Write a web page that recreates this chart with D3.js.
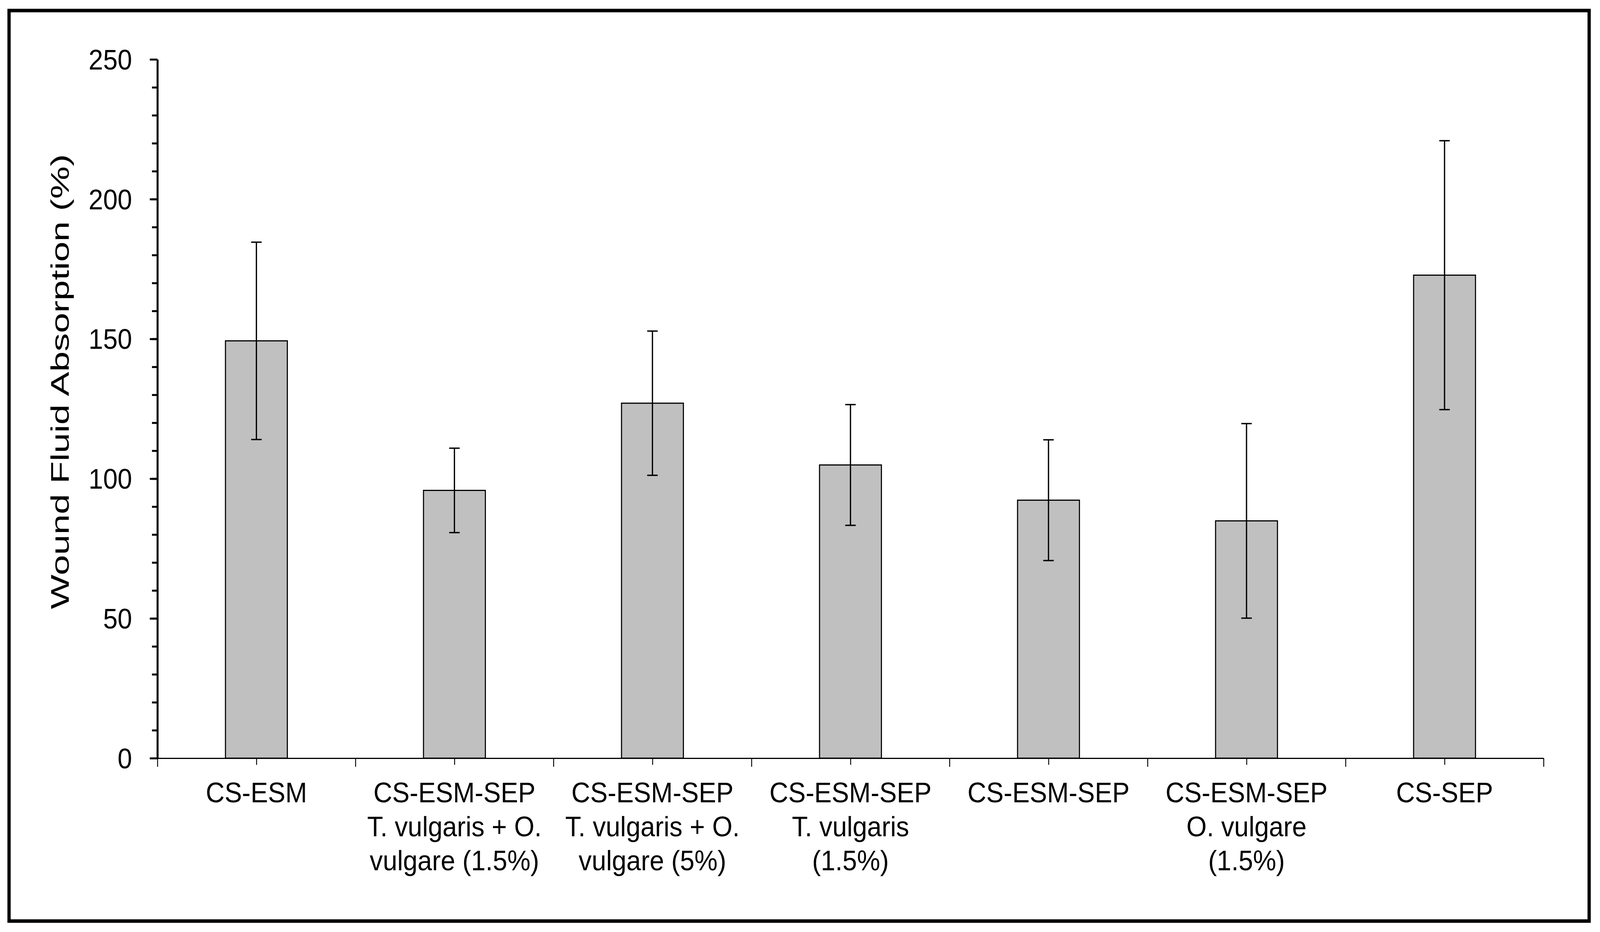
<!DOCTYPE html>
<html>
<head>
<meta charset="utf-8">
<script src="https://cdn.jsdelivr.net/npm/d3@7"></script>
<style>
  html, body { margin: 0; padding: 0; width: 100%; height: 100%; overflow: hidden; background: #fff; }
  svg { display: block; }
  text { font-family: "Liberation Sans", Arial, sans-serif; fill: #000; }
</style>
</head>
<body>
<script>
var width = 4422, height = 2386

// data
var categories = ["CS-ESM", "CS-ESM-SEP T.v+O.v 1.5", "CS-ESM-SEP T.v+O.v 5", "CS-ESM-SEP T.v 1.5",
                  "CS-ESM-SEP", "CS-ESM-SEP O.v 1.5", "CS-SEP"]
var labelLines = [
  ["CS-ESM"],
  ["CS-ESM-SEP", "T. vulgaris + O.", "vulgare (1.5%)"],
  ["CS-ESM-SEP", "T. vulgaris + O.", "vulgare (5%)"],
  ["CS-ESM-SEP", "T. vulgaris", "(1.5%)"],
  ["CS-ESM-SEP"],
  ["CS-ESM-SEP", "O. vulgare", "(1.5%)"],
  ["CS-SEP"]
]
var means  = [149.3, 95.8, 127.0, 104.9, 92.3, 84.9, 172.8]
var errors = [35.3, 15.1, 25.8, 21.6, 21.6, 34.8, 48.1]
var yMajor = [0, 50, 100, 150, 200, 250]
var yTitle = "Wound Fluid Absorption (%)"

var plot = { left: 435, right: 4266, top: 152, bottom: 1941 }

// scale the drawing to whatever the window really is
var svg = d3.select("body").append("svg")
    .attr("width", "100%")
    .attr("height", "100%")
    .attr("viewBox", "0 0 " + width + " " + height)
    .attr("preserveAspectRatio", "none")

// outer frame
svg.append("rect")
    .attr("x", 25).attr("y", 27)
    .attr("width", 4392 - 25).attr("height", 2358 - 27)
    .attr("fill", "none")
    .attr("stroke", "#000")
    .attr("stroke-width", 9)

var x = d3.scaleBand()
    .domain(categories)
    .range([plot.left, plot.right])
    .paddingInner(0.6875)
    .paddingOuter(0.34375)

var xPos = d3.scaleLinear()
    .domain([0, categories.length])
    .range([plot.left, plot.right])

var y = d3.scaleLinear()
    .domain([0, 250])
    .range([plot.bottom, plot.top])

// bars
svg.selectAll(".bar")
    .data(means)
    .enter().append("rect")
    .attr("class", "bar")
    .attr("x", function(d, i) { return x(categories[i]) })
    .attr("y", function(d) { return y(d) })
    .attr("width", x.bandwidth())
    .attr("height", function(d) { return y(0) - y(d) })
    .attr("fill", "#c0c0c0")
    .attr("stroke", "#000")
    .attr("stroke-width", 3)

// error bars
var capW = 29
var err = svg.selectAll(".err")
    .data(means)
    .enter().append("g")
    .attr("class", "err")
    .attr("stroke", "#000")
    .attr("stroke-width", 3.5)
err.append("line")
    .attr("x1", function(d, i) { return x(categories[i]) + x.bandwidth() / 2 })
    .attr("x2", function(d, i) { return x(categories[i]) + x.bandwidth() / 2 })
    .attr("y1", function(d, i) { return y(d + errors[i]) })
    .attr("y2", function(d, i) { return y(d - errors[i]) })
err.selectAll(".cap")
    .data(function(d, i) { return [[i, d + errors[i]], [i, d - errors[i]]] })
    .enter().append("line")
    .attr("x1", function(d) { return x(categories[d[0]]) + x.bandwidth() / 2 - capW / 2 })
    .attr("x2", function(d) { return x(categories[d[0]]) + x.bandwidth() / 2 + capW / 2 })
    .attr("y1", function(d) { return y(d[1]) })
    .attr("y2", function(d) { return y(d[1]) })

// y axis: minor ticks every 10, major every 50
var yMinorAxis = svg.append("g")
    .attr("transform", "translate(" + plot.left + ",0)")
    .call(d3.axisLeft(y).tickValues(d3.range(0, 251, 10)).tickSize(15).tickFormat(""))
yMinorAxis.select(".domain").remove()
yMinorAxis.selectAll("line").attr("stroke-width", 5)

var yAxis = svg.append("g")
    .attr("transform", "translate(" + plot.left + ",0)")
    .call(d3.axisLeft(y).tickValues(yMajor).tickSize(21).tickSizeOuter(0).tickPadding(49))
yAxis.select(".domain").attr("stroke-width", 5.5)
yAxis.selectAll("line").attr("stroke-width", 5)
yAxis.selectAll("text")
    .style("font-size", "72px")
    .attr("dy", "0.35em")

// x axis: ticks at category edges and centres
var xEdge = svg.append("g")
    .attr("transform", "translate(0," + plot.bottom + ")")
    .call(d3.axisBottom(xPos).tickValues(d3.range(0, categories.length + 1)).tickSize(22).tickSizeOuter(0).tickFormat(""))
xEdge.select(".domain").attr("stroke-width", 3)
xEdge.selectAll("line").attr("stroke-width", 2.5)

var xMid = svg.append("g")
    .attr("transform", "translate(0," + plot.bottom + ")")
    .call(d3.axisBottom(xPos).tickValues(d3.range(0.5, categories.length, 1)).tickSize(17).tickFormat(""))
xMid.select(".domain").remove()
xMid.selectAll("line").attr("stroke-width", 2.5)

// category labels
svg.selectAll(".catLabel")
    .data(labelLines)
    .enter().append("text")
    .attr("class", "catLabel")
    .attr("text-anchor", "middle")
    .style("font-size", "72px")
    .attr("transform", function(d, i) {
      return "translate(" + (x(categories[i]) + x.bandwidth() / 2) + ",2054)"
    })
    .selectAll("tspan")
    .data(function(d) { return d })
    .enter().append("tspan")
    .attr("x", 0)
    .attr("y", function(d, j) { return j * 87 })
    .text(function(d) { return d })

// y title (drawn elongated, as in the source figure)
svg.append("text")
    .attr("transform", "translate(190,977) rotate(-90)")
    .attr("text-anchor", "middle")
    .attr("textLength", 1165)
    .attr("lengthAdjust", "spacingAndGlyphs")
    .style("font-size", "70px")
    .text(yTitle)
</script>
</body>
</html>
